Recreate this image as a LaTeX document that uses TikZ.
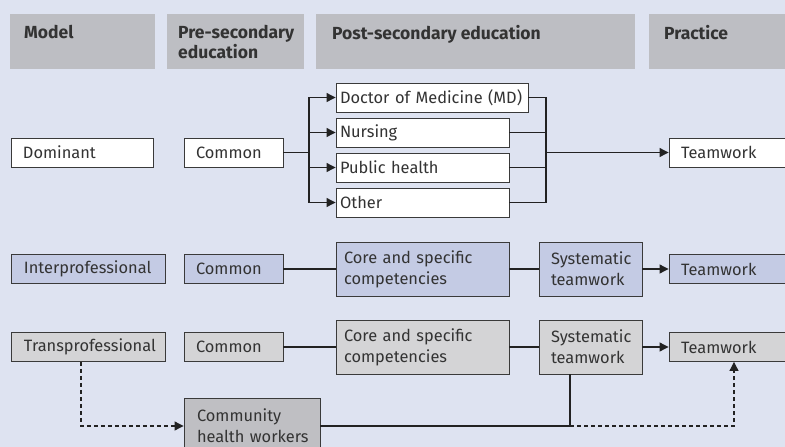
\documentclass[tikz,border=0pt]{standalone}
\usepackage{fontspec}
\setmainfont{Fira Sans}
\usetikzlibrary{arrows.meta}
\definecolor{bgc}{HTML}{DEE3F1}
\definecolor{hdrc}{HTML}{BDBEC3}
\definecolor{interc}{HTML}{C4CBE4}
\definecolor{transc}{HTML}{D4D4D6}
\definecolor{chwc}{HTML}{BFBFC3}
\definecolor{txtc}{HTML}{333333}
\definecolor{brdc}{HTML}{3A3A3A}
\definecolor{linec}{HTML}{222222}
\tikzset{
  hdrbox/.style={fill=hdrc, draw=none, inner sep=0pt},
  hdrtext/.style={anchor=north west, font=\bfseries\fontsize{17.5}{20}\selectfont, text=txtc, align=left, inner sep=0pt},
  box/.style={draw=brdc, line width=0.9pt, inner xsep=12pt, inner ysep=0pt, align=left, text=txtc, font=\fontsize{16.4}{21}\selectfont},
  wbox/.style={box, fill=white},
  ibox/.style={box, fill=interc},
  tbox/.style={box, fill=transc},
  conn/.style={draw=linec, line width=1.1pt},
  tip/.style={-{Triangle[length=9pt,width=9pt]}},
  dsh/.style={dash pattern=on 4pt off 3pt}
}
\begin{document}
\begin{tikzpicture}[x=1pt,y=-1pt]
\useasboundingbox (0,0) rectangle (785,447);
\fill[bgc] (0,0) rectangle (785,447);
\clip (0,0) rectangle (785,447);
% headers
\node[hdrbox, minimum width=145, minimum height=55] (h1) at (82.5,41.5) {};
\node[hdrbox, minimum width=137, minimum height=55] (h2) at (235.5,41.5) {};
\node[hdrbox, minimum width=319, minimum height=55] (h3) at (475.5,41.5) {};
\node[hdrbox, minimum width=140, minimum height=55] (h4) at (719,41.5) {};
\node[hdrtext] (t1) at (24,25) {Model};
\node[hdrtext] (t2) at (178,25) {Pre-secondary\\education};
\node[hdrtext] (t3) at (332,25) {Post-secondary education};
\node[hdrtext] (t4) at (664,25) {Practice};
% row 1
\node[wbox, minimum width=142, minimum height=29, text width=118] (dom) at (82,152.5) {Dominant};
\node[wbox, minimum width=99, minimum height=29, text width=75] (c1) at (233.5,152.5) {Common};
\node[wbox, minimum width=192, minimum height=29, text width=184, inner xsep=4pt] (md) at (432,97.5) {\mbox{Doctor of Medicine (MD)}};
\node[wbox, minimum width=173, minimum height=29, text width=165, inner xsep=4pt] (nur) at (422.5,132.5) {Nursing};
\node[wbox, minimum width=173, minimum height=29, text width=165, inner xsep=4pt] (ph) at (422.5,167.5) {Public health};
\node[wbox, minimum width=173, minimum height=29, text width=165, inner xsep=4pt] (oth) at (422.5,202.5) {Other};
\node[wbox, minimum width=130, minimum height=29, text width=106] (tw1) at (734,152.5) {Teamwork};
% row 2
\node[ibox, minimum width=154, minimum height=29, text width=144, inner xsep=5pt] (ip) at (88,269) {\hspace{8pt}\mbox{Interprofessional}};
\node[ibox, minimum width=99, minimum height=29, text width=75] (c2) at (233.5,269) {Common};
\node[ibox, minimum width=173, minimum height=54, text width=157, inner xsep=8pt] (core2) at (422.5,269) {Core and specific\\competencies};
\node[ibox, minimum width=103, minimum height=54, text width=85, inner xsep=9pt] (sys2) at (590.5,269) {\hspace{3pt}Systematic\\\hspace*{3pt}teamwork};
\node[ibox, minimum width=130, minimum height=29, text width=106] (tw2) at (734,269) {Teamwork};
% row 3
\node[tbox, minimum width=154, minimum height=29, text width=144, inner xsep=5pt] (tp) at (88,347) {\hspace{8pt}\mbox{Transprofessional}};
\node[tbox, minimum width=99, minimum height=29, text width=75] (c3) at (233.5,347) {Common};
\node[tbox, minimum width=173, minimum height=54, text width=157, inner xsep=8pt] (core3) at (422.5,347) {Core and specific\\competencies};
\node[tbox, minimum width=103, minimum height=54, text width=85, inner xsep=9pt] (sys3) at (590.5,347) {\hspace{3pt}Systematic\\\hspace*{3pt}teamwork};
\node[tbox, minimum width=130, minimum height=29, text width=106] (tw3) at (734,347) {Teamwork};
\node[box, fill=chwc, minimum width=136, minimum height=56, text width=120, inner xsep=8pt] (chw) at (252,426) {\hspace{5pt}Community\\\hspace*{5pt}health workers};
% connectors row 1
\coordinate (br) at (309,152.5);
\coordinate (mg) at (546,152.5);
\draw[conn] (c1.east) -- (br);
\draw[conn,tip] (br) |- (md.west);
\draw[conn,tip] (br) |- (nur.west);
\draw[conn,tip] (br) |- (ph.west);
\draw[conn,tip] (br) |- (oth.west);
\draw[conn] (md.east) -| (mg);
\draw[conn] (nur.east) -| (mg);
\draw[conn] (ph.east) -| (mg);
\draw[conn] (oth.east) -| (mg);
\draw[conn,tip] (mg) -- (tw1.west);
% row 2
\draw[conn] (c2.east) -- (core2.west);
\draw[conn] (core2.east) -- (sys2.west);
\draw[conn,tip] (sys2.east) -- (tw2.west);
% row 3
\draw[conn] (c3.east) -- (core3.west);
\draw[conn] (core3.east) -- (sys3.west);
\draw[conn,tip] (sys3.east) -- (tw3.west);
% community
\coordinate (j) at (570,426);
\coordinate (k) at (734,426);
\coordinate (d) at (81,426);
\draw[conn] (chw.east) -- (j) -- (j |- sys3.south);
\draw[conn,dsh,tip] (j) -- (k) -- (k |- tw3.south);
\draw[conn,dsh,tip] (d |- tp.south) -- (d) -- (chw.west);
\end{tikzpicture}
\end{document}
